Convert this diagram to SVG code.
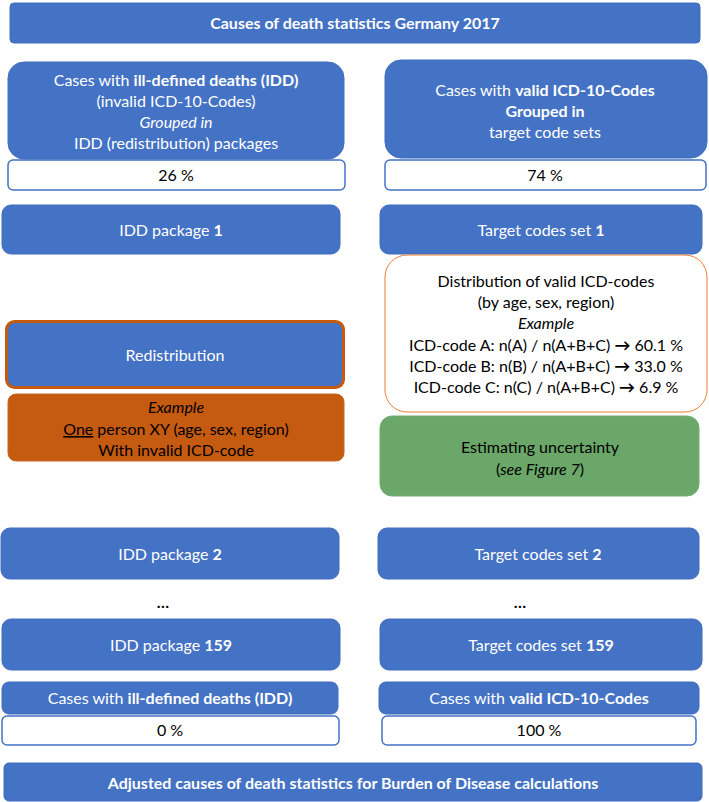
<svg xmlns="http://www.w3.org/2000/svg" width="709" height="802" viewBox="0 0 709 802">
<style>
.b{fill:#4472C4;stroke:#3F6DBF;stroke-width:1}
.w{fill:#FFFFFF;stroke:#4472C4;stroke-width:1.5}
.t{font-family:Lato,"Liberation Sans",sans-serif;font-size:16px;text-anchor:middle}
.wt{fill:#FFFFFF}
.k{fill:#000000}
.bd{font-weight:bold}
.it{font-style:italic}
</style>
<rect width="709" height="802" fill="#FFFFFF"/>
<g id="title">
<rect class="b" x="10" y="3" width="690" height="40" rx="4"/>
<text class="t wt bd" x="355" y="29">Causes of death statistics Germany 2017</text>
</g>
<g id="idd-cases">
<rect class="b" x="8" y="62" width="336" height="97" rx="16"/>
<text class="t wt" x="176" y="86">Cases with <tspan class="bd">ill-defined deaths (IDD)</tspan></text>
<text class="t wt" x="176" y="107">(invalid ICD-10-Codes)</text>
<text class="t wt it" x="176" y="128">Grouped in</text>
<text class="t wt" x="176" y="149">IDD (redistribution) packages</text>
</g>
<g id="idd-pct">
<rect class="w" x="8" y="160" width="337" height="30" rx="5"/>
<text class="t k" x="176" y="181">26 %</text>
</g>
<g id="valid-cases">
<rect class="b" x="385" y="60" width="322" height="98" rx="16"/>
<text class="t wt" x="545" y="96">Cases with <tspan class="bd">valid ICD-10-Codes</tspan></text>
<text class="t wt bd" x="545" y="117">Grouped in</text>
<text class="t wt" x="545" y="138">target code sets</text>
</g>
<g id="valid-pct">
<rect class="w" x="385" y="160" width="321" height="30" rx="5"/>
<text class="t k" x="545" y="181">74 %</text>
</g>
<g id="idd1">
<rect class="b" x="2" y="205" width="338" height="49" rx="9"/>
<text class="t wt" x="171" y="236">IDD package <tspan class="bd">1</tspan></text>
</g>
<g id="tcs1">
<rect class="b" x="380" y="205" width="322" height="49" rx="9"/>
<text class="t wt" x="541" y="236">Target codes set <tspan class="bd">1</tspan></text>
</g>
<g id="distribution">
<rect x="385" y="255" width="322" height="157" rx="22" fill="#FFFFFF" stroke="#ED7D31" stroke-width="1"/>
<text class="t k" x="546" y="287">Distribution of valid ICD-codes</text>
<text class="t k" x="546" y="308">(by age, sex, region)</text>
<text class="t k it" x="546" y="329">Example</text>
<text class="t k" x="546" y="351">ICD-code A: n(A) / n(A+B+C) <tspan class="bd">→</tspan> 60.1 %</text>
<text class="t k" x="546" y="372">ICD-code B: n(B) / n(A+B+C) <tspan class="bd">→</tspan> 33.0 %</text>
<text class="t k" x="546" y="393">ICD-code C: n(C) / n(A+B+C) <tspan class="bd">→</tspan> 6.9 %</text>
</g>
<g id="redistribution">
<rect x="6.5" y="321.5" width="337" height="66" rx="8" fill="#4472C4" stroke="#C55A11" stroke-width="3"/>
<text class="t wt" x="175" y="361">Redistribution</text>
</g>
<g id="example">
<rect x="8" y="394" width="336" height="67" rx="8" fill="#C55A11" stroke="#C8652A" stroke-width="1"/>
<text class="t k it" x="176" y="413">Example</text>
<text class="t k" x="176" y="435"><tspan text-decoration="underline">One</tspan> person XY (age, sex, region)</text>
<text class="t k" x="176" y="456">With invalid ICD-code</text>
</g>
<g id="uncertainty">
<rect x="380" y="416" width="319" height="80" rx="12" fill="#6AA769" stroke="#74AE73" stroke-width="1"/>
<text class="t k" x="540" y="453">Estimating uncertainty</text>
<text class="t k" x="540" y="475">(<tspan class="it">see Figure 7</tspan>)</text>
</g>
<g id="idd2">
<rect class="b" x="1" y="528" width="338" height="51" rx="9"/>
<text class="t wt" x="170" y="560">IDD package <tspan class="bd">2</tspan></text>
</g>
<g id="tcs2">
<rect class="b" x="378" y="528" width="321" height="51" rx="9"/>
<text class="t wt" x="538" y="560">Target codes set <tspan class="bd">2</tspan></text>
</g>
<g id="dots-left"><text class="t k bd" x="163" y="608">…</text></g>
<g id="dots-right"><text class="t k bd" x="520" y="608">…</text></g>
<g id="idd159">
<rect class="b" x="2" y="619" width="338" height="51" rx="9"/>
<text class="t wt" x="171" y="651">IDD package <tspan class="bd">159</tspan></text>
</g>
<g id="tcs159">
<rect class="b" x="380" y="619" width="322" height="51" rx="9"/>
<text class="t wt" x="541" y="651">Target codes set <tspan class="bd">159</tspan></text>
</g>
<g id="idd-final">
<rect class="b" x="2" y="682" width="336" height="32" rx="7"/>
<text class="t wt" x="170" y="704">Cases with <tspan class="bd">ill-defined deaths (IDD)</tspan></text>
</g>
<g id="valid-final">
<rect class="b" x="379" y="682" width="320" height="32" rx="7"/>
<text class="t wt" x="539" y="704">Cases with <tspan class="bd">valid ICD-10-Codes</tspan></text>
</g>
<g id="idd-final-pct">
<rect class="w" x="2" y="716" width="337" height="29" rx="5"/>
<text class="t k" x="170" y="736">0 %</text>
</g>
<g id="valid-final-pct">
<rect class="w" x="382" y="716" width="314" height="29" rx="5"/>
<text class="t k" x="539" y="736">100 %</text>
</g>
<g id="adjusted">
<rect class="b" x="4" y="763" width="698" height="38" rx="5"/>
<text class="t wt bd" x="353" y="789">Adjusted causes of death statistics for Burden of Disease calculations</text>
</g>
<g id="connectors"></g>
</svg>
